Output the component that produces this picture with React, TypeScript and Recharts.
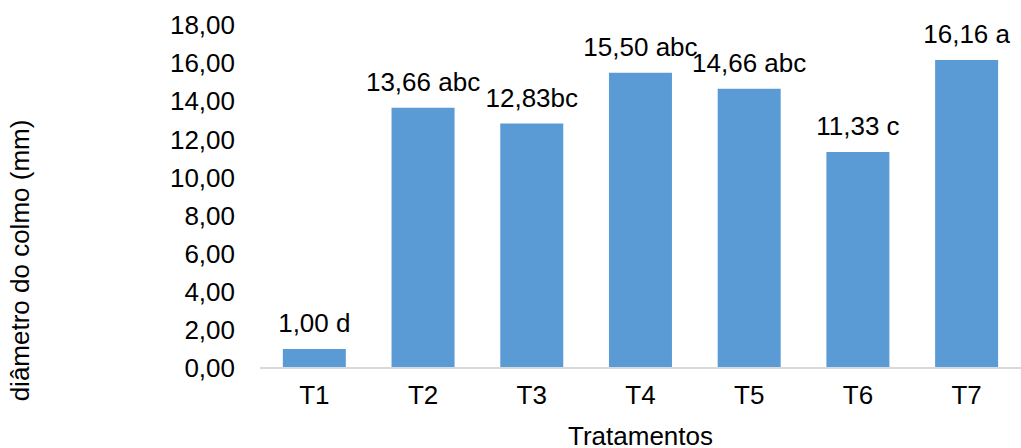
import { BarChart, Bar, XAxis, YAxis, LabelList, Label } from "recharts";

const treatments = ["T1", "T2", "T3", "T4", "T5", "T6", "T7"];
const diameters = [1.0, 13.66, 12.83, 15.5, 14.66, 11.33, 16.16];
const barLabels = [
  "1,00 d",
  "13,66 abc",
  "12,83bc",
  "15,50 abc",
  "14,66 abc",
  "11,33 c",
  "16,16 a",
];
const yTicks = [0, 2, 4, 6, 8, 10, 12, 14, 16, 18];

const data = treatments.map((name, i) => ({
  name,
  value: diameters[i],
  label: barLabels[i],
}));

const font = "Liberation Sans, Arial, sans-serif";
const fs = 26;

export default function App() {
  return (
    <div style={{ position: "absolute", left: 0, top: 0, fontFamily: font }}>
      <BarChart
        width={1021}
        height={448}
        data={data}
        margin={{ top: 25, right: 0, bottom: 0, left: 0 }}
        barCategoryGap="21%"
      >
        <XAxis
          dataKey="name"
          height={80}
          tickLine={false}
          axisLine={{ stroke: "#d9d9d9", strokeWidth: 2 }}
          tick={{ fill: "#000", fontSize: fs, fontFamily: font }}
          tickMargin={12}
        >
          <Label
            content={({ viewBox }: any) => (
              <text
                x={viewBox.x + viewBox.width / 2}
                y={viewBox.y + 77}
                textAnchor="middle"
                fontSize={fs}
                fontFamily={font}
                fill="#000"
              >
                Tratamentos
              </text>
            )}
          />
        </XAxis>
        <YAxis
          width={260}
          domain={[0, 18]}
          ticks={yTicks}
          axisLine={false}
          tickLine={false}
          tickSize={0}
          tickMargin={25}
          tick={{ fill: "#000", fontSize: fs, fontFamily: font }}
          tickFormatter={(v: number) => v.toFixed(2).replace(".", ",")}
        >
          <Label
            content={({ viewBox }: any) => {
              const x = viewBox.x + 29;
              const y = viewBox.y + viewBox.height / 2 + 64;
              return (
                <text
                  x={x}
                  y={y}
                  transform={`rotate(-90, ${x}, ${y})`}
                  textAnchor="middle"
                  fontSize={fs}
                  fontFamily={font}
                  fill="#000"
                >
                  diâmetro do colmo (mm)
                </text>
              );
            }}
          />
        </YAxis>
        <Bar dataKey="value" fill="#5b9bd5" isAnimationActive={false}>
          <LabelList
            dataKey="label"
            position="top"
            offset={17}
            fill="#000"
            fontSize={fs}
            fontFamily={font}
          />
        </Bar>
      </BarChart>
    </div>
  );
}
